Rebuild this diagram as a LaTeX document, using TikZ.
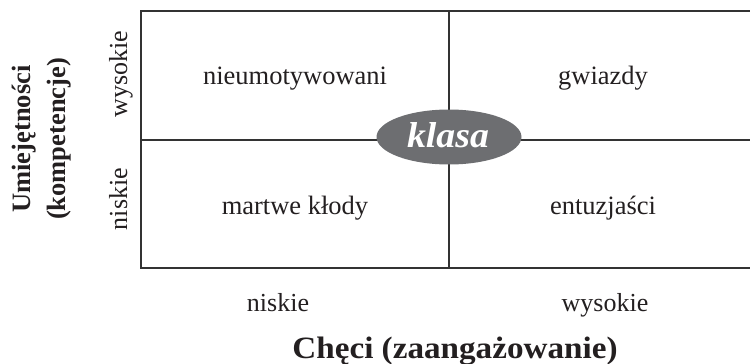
\documentclass[tikz,border=0pt]{standalone}
\usepackage{fontspec}
\setmainfont{Liberation Serif}
\newfontfamily\widebold{Liberation Serif}[FakeStretch=1.07]
\newfontfamily\klasafont{Liberation Serif}[FakeStretch=1.05]
\usetikzlibrary{shapes.geometric}
\definecolor{ink}{HTML}{231F20}
\definecolor{rule}{HTML}{333333}
\definecolor{ovalgray}{HTML}{6D6E71}
\tikzset{
  quad/.style={font=\fontsize{26.5}{28}\selectfont, text=ink, anchor=base, inner sep=0pt},
  axislbl/.style={font=\fontsize{26}{28}\selectfont, text=ink, anchor=base, inner sep=0pt},
  axistitle/.style={font=\fontsize{26.5}{28}\bfseries\selectfont, text=ink, anchor=base, inner sep=0pt},
  frame/.style={draw=rule, line width=1.4pt},
  divider/.style={draw=rule, line width=1.1pt},
}
\begin{document}
\begin{tikzpicture}[x=1pt,y=-1pt]
\useasboundingbox (0,0) rectangle (750,364);
\coordinate (tl) at (141,11);
\coordinate (bl) at (141,268);
\coordinate (tr) at (751,11);
\coordinate (br) at (751,268);
\coordinate (ml) at (141,140);
\coordinate (mr) at (751,140);
\coordinate (mt) at (449,11);
\coordinate (mb) at (449,268);
\draw[frame] (tr) -- (tl) -- (bl) -- (br);
\draw[divider] (ml) -- (mr);
\draw[divider] (mt) -- (mb);
\node[ellipse, fill=ovalgray, minimum width=145, minimum height=55, inner sep=0pt] (klasa) at (449,137) {};
\node[font=\klasafont\fontsize{36}{37}\bfseries\itshape\selectfont, text=white, anchor=base, inner sep=0pt] (klasat) at (448,147) {klasa};
\node[quad] (q1) at (295,84) {nieumotywowani};
\node[quad] (q2) at (603,84) {gwiazdy};
\node[quad] (q3) at (295,214) {martwe kłody};
\node[quad] (q4) at (603,214) {entuzjaści};
\node[axislbl] (xlo) at (278,311) {niskie};
\node[axislbl] (xhi) at (605,311) {wysokie};
\node[axistitle, font=\widebold\fontsize{31}{32}\bfseries\selectfont] (xt) at (455,358) {Chęci (zaangażowanie)};
\node[axislbl, rotate=90] (yhi) at (127,74) {wysokie};
\node[axislbl, rotate=90] (ylo) at (127,199) {niskie};
\node[axistitle, rotate=90] (yt1) at (30,139) {Umiejętności};
\node[axistitle, rotate=90] (yt2) at (65,139) {(kompetencje)};
\end{tikzpicture}
\end{document}
